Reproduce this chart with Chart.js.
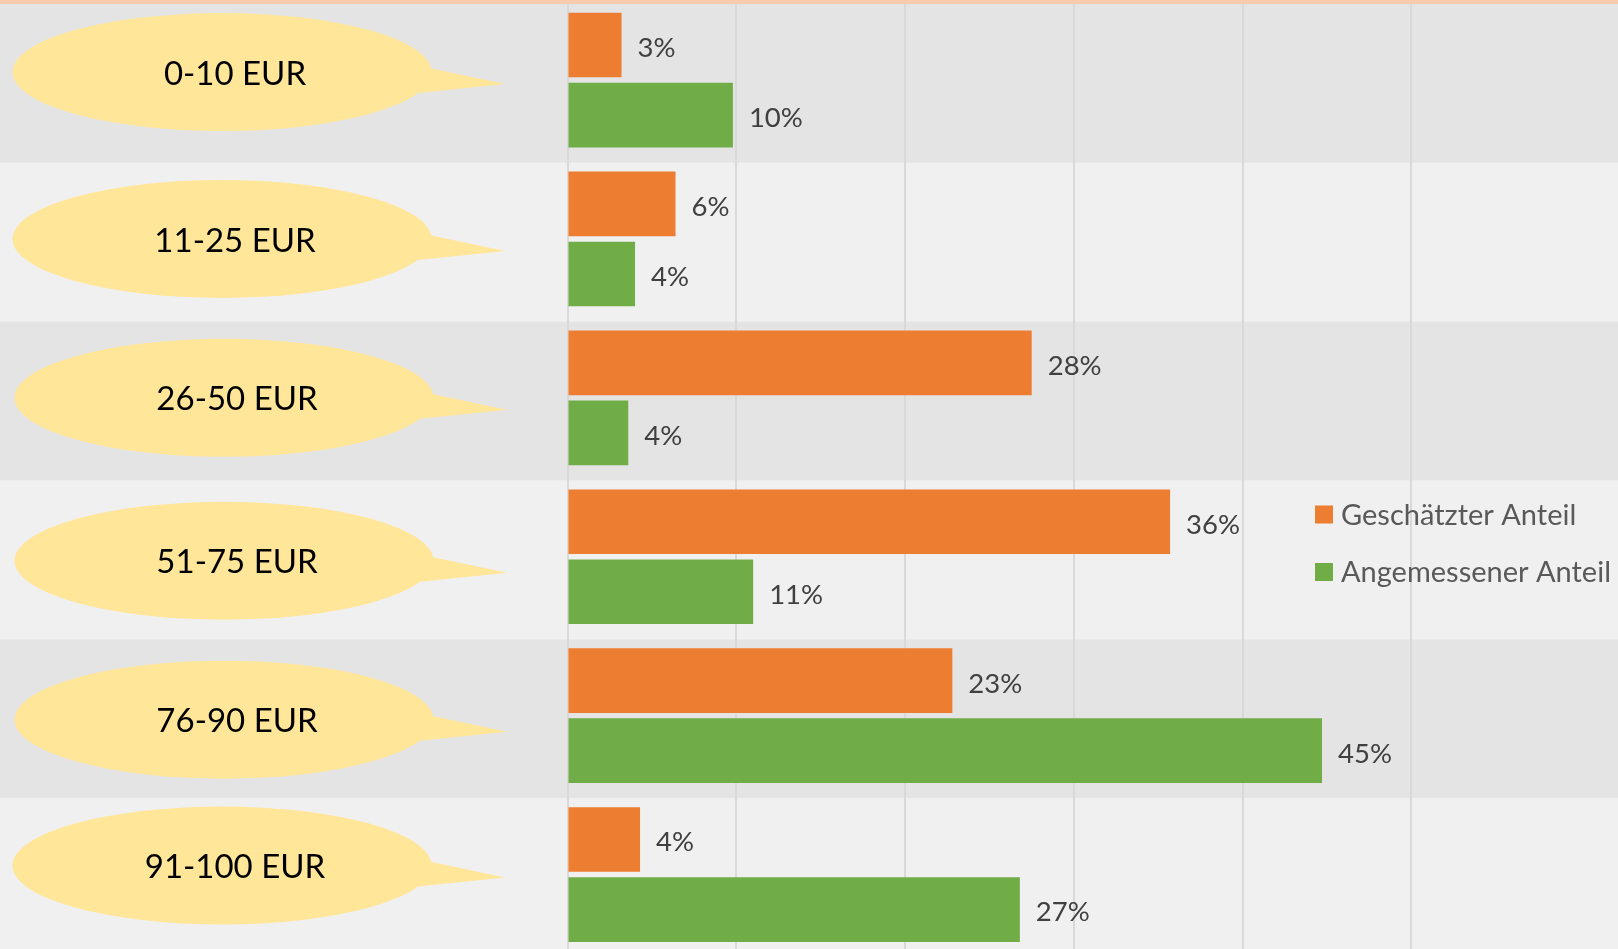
<!DOCTYPE html>
<html>
<head>
<meta charset="utf-8">
<script src="https://cdn.jsdelivr.net/npm/chart.js@4.4.0/dist/chart.umd.min.js"></script>
<style>
  html, body { margin: 0; padding: 0; overflow: hidden; background: #f0f0f0; }
  #chart { display: block; }
</style>
</head>
<body>
<canvas id="chart" width="1618" height="954"></canvas>
<script>
// =======================
// Data (percent)
const priceRanges = ['0-10 EUR', '11-25 EUR', '26-50 EUR', '51-75 EUR', '76-90 EUR', '91-100 EUR'];
const estimatedShare = [3.2, 6.4, 27.5, 35.7, 22.8, 4.3];
const appropriateShare = [9.8, 4.0, 3.6, 11.0, 44.7, 26.8];
const seriesNames = ['Geschätzter Anteil', 'Angemessener Anteil'];
const gridTicks = [0, 10, 20, 30, 40, 50];

// =======================
// Styles
const ORANGE = '#ed7d31';
const GREEN = '#70ad47';
const BUBBLE = '#ffe699';
const FONT = 'Lato, "Open Sans", sans-serif';

// small per-row nudges of the speech bubbles, as in the original slide
const bubbleDy = [-8, 0, 0, 4, 4, -9];
const bubbleDx = [0, 0, 2, 2, 2, 0];

// =======================
// Background bands + top strip
const bandsPlugin = {
  id: 'bands',
  beforeDraw(chart) {
    const { ctx, scales: { y } } = chart;
    const step = y.height / priceRanges.length;
    ctx.save();
    priceRanges.forEach((_, i) => {
      const c = y.getPixelForValue(i) + 3.3;
      ctx.fillStyle = i % 2 === 0 ? '#e4e4e4' : '#f0f0f0';
      ctx.fillRect(0, c - step / 2, chart.width, step);
    });
    ctx.restore();
  },
  afterDraw(chart) {
    const ctx = chart.ctx;
    ctx.save();
    ctx.fillStyle = '#f8cbad';
    ctx.fillRect(0, 0, chart.width, 4);
    ctx.restore();
  }
};

// =======================
// Value labels, speech bubbles, legend
const overlayPlugin = {
  id: 'overlay',
  afterDatasetsDraw(chart) {
    const { ctx, scales: { y } } = chart;
    ctx.save();

    // value labels
    ctx.font = '27.5px ' + FONT;
    ctx.fillStyle = '#404040';
    ctx.textAlign = 'left';
    ctx.textBaseline = 'middle';
    chart.data.datasets.forEach((ds, di) => {
      chart.getDatasetMeta(di).data.forEach((bar, i) => {
        ctx.fillText(Math.round(ds.data[i]) + '%', bar.x + 16, bar.y + 3);
      });
    });

    // speech bubbles with the category names
    priceRanges.forEach((label, i) => {
      const cx = 222 + bubbleDx[i];
      const cy = y.getPixelForValue(i) + bubbleDy[i];
      ctx.fillStyle = BUBBLE;
      ctx.beginPath();
      ctx.ellipse(cx, cy, 209.5, 59, 0, 0, Math.PI * 2);
      ctx.fill();
      ctx.beginPath();
      ctx.moveTo(cx + 207, cy - 4);
      ctx.lineTo(cx + 283, cy + 12);
      ctx.lineTo(cx + 196, cy + 21);
      ctx.closePath();
      ctx.fill();
      ctx.fillStyle = '#000000';
      ctx.font = '33px ' + FONT;
      ctx.textAlign = 'center';
      ctx.textBaseline = 'middle';
      ctx.fillText(label, cx + 13, cy + 2);
    });

    // legend
    ctx.font = '29px ' + FONT;
    ctx.textAlign = 'left';
    ctx.textBaseline = 'middle';
    chart.data.datasets.forEach((ds, di) => {
      const yy = 514.5 + di * 57.5;
      ctx.fillStyle = ds.backgroundColor;
      ctx.fillRect(1315, yy - 9, 18, 18);
      ctx.fillStyle = '#595959';
      ctx.fillText(ds.label, 1341, yy + 1);
    });

    ctx.restore();
  }
};

// =======================
// Chart
new Chart(document.getElementById('chart'), {
  type: 'bar',
  data: {
    labels: priceRanges,
    datasets: [
      { label: seriesNames[0], data: estimatedShare, backgroundColor: ORANGE },
      { label: seriesNames[1], data: appropriateShare, backgroundColor: GREEN }
    ]
  },
  options: {
    indexAxis: 'y',
    responsive: false,
    animation: false,
    devicePixelRatio: 1,
    categoryPercentage: 0.8816,
    barPercentage: 0.923,
    layout: { padding: { left: 567.5, right: 71.5, top: 0.6, bottom: 0 } },
    plugins: { legend: { display: false }, tooltip: { enabled: false } },
    scales: {
      x: {
        min: 0,
        max: 58,
        afterBuildTicks: s => { s.ticks = gridTicks.map(v => ({ value: v })); },
        ticks: { display: false },
        border: { display: false },
        grid: { color: '#d9d9d9', lineWidth: 2, drawTicks: false }
      },
      y: {
        display: false
      }
    }
  },
  plugins: [bandsPlugin, overlayPlugin]
});
</script>
</body>
</html>
